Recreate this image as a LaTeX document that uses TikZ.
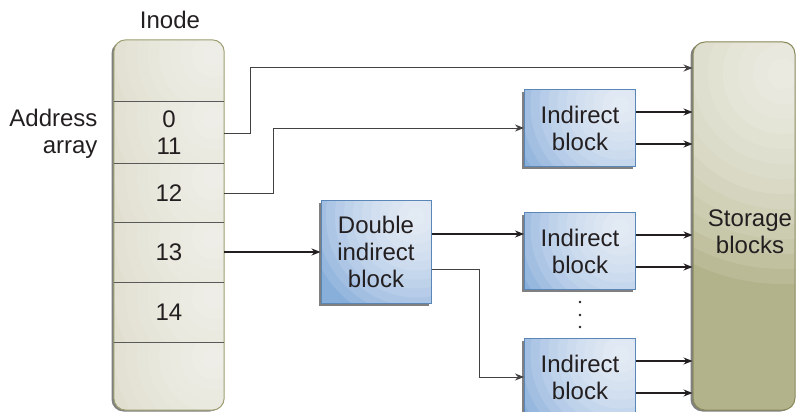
\documentclass[tikz,border=0pt]{standalone}
\usepackage{fontspec}
\setmainfont{Liberation Sans}
\usetikzlibrary{arrows.meta, positioning, shadows, calc}

\definecolor{inodefill}{HTML}{D8D6C1}
\definecolor{inodeedge}{HTML}{9E9E72}
\definecolor{storefill}{HTML}{B3B38B}
\definecolor{storeedge}{HTML}{8A8A5C}
\definecolor{blockfill}{HTML}{88AEDA}
\definecolor{blockedge}{HTML}{5A86B8}
\definecolor{ink}{HTML}{231F20}

% soft white highlight: centre, rings, ring step, opacity
\newcommand{\glowat}[4]{%
    \foreach \k in {1,...,#2}
        \fill[white, opacity=#4] #1 circle ({\k*#3});}

\begin{document}
\begin{tikzpicture}[x=1pt, y=-1pt, >={Stealth[length=9pt, width=7pt]},
    font=\fontsize{24}{27}\selectfont, text=ink,
    blk/.style={rectangle, draw=blockedge, line width=1pt, fill=blockfill, align=center, inner sep=0pt,
        minimum width=111pt, minimum height=77pt,
        drop shadow={shadow xshift=-2.5pt, shadow yshift=-2.5pt, fill=black!50, opacity=1},
        path picture={\glowat{($(path picture bounding box.north east)+(-15,16)$)}{12}{9pt}{0.12}}},
    store/.style={rectangle, rounded corners=12pt, draw=storeedge, line width=1pt, fill=storefill,
        inner sep=0pt, minimum width=102pt, minimum height=368pt,
        drop shadow={shadow xshift=-2.5pt, shadow yshift=-1.5pt, fill=black!50, opacity=1},
        path picture={\glowat{($(path picture bounding box.north east)+(-12,32)$)}{14}{15pt}{0.1}}},
    cell/.style={align=center, inner sep=0pt},
    rowline/.style={draw=black!65, line width=1pt},
    arr/.style={->, draw=ink, line width=1.5pt},
    wire/.style={->, draw=ink!85, line width=1pt}]

    \useasboundingbox (0,0) rectangle (796,412);

    % inode with its rows
    \node (inode) [rectangle, rounded corners=12pt, fill=inodefill, inner sep=0pt,
        minimum width=110pt, minimum height=370pt,
        drop shadow={shadow xshift=-2.5pt, shadow yshift=-1.5pt, fill=black!50, opacity=1}] at (169,225) {};
    \begin{scope}
        \clip[rounded corners=12pt] (inode.north west) rectangle (inode.south east);
        \foreach \t/\b in {40/102, 102/163, 163/222, 222/282, 282/342, 342/410} {
            \begin{scope}
                \clip (100,\t) rectangle (240,\b);
                \glowat{(214,\t+15)}{12}{11pt}{0.09}
            \end{scope}
        }
    \end{scope}
    \draw[inodeedge, line width=1pt, rounded corners=12pt] (inode.north west) rectangle (inode.south east);
    \foreach \y in {102,163,222,282,342}
        \draw[rowline] (inode.west |- 0,\y) -- (inode.east |- 0,\y);

    \node (title) at (170,20) {Inode};
    \node (addr) [align=right, anchor=east] at (101,134) {Address\\array};
    \node (r0) [cell] at (169,133) {0\\11};
    \node (r12) [cell] at (169,193) {12};
    \node (r13) [cell] at (169,252) {13};
    \node (r14) [cell] at (169,312) {14};

    % storage and blocks
    \node (store) [store] at (744,226) {};
    \node (storetxt) [cell] at (750,232) {Storage\\blocks};
    \node (dbl) [blk, minimum width=110pt, minimum height=103pt] at (376,252) {Double\\indirect\\block};
    \node (ib1) [blk] at (580,128) {Indirect\\block};
    \node (ib2) [blk] at (580,251) {Indirect\\block};
    \node (ib3) [blk] at (580,377) {Indirect\\block};
    \foreach \y in {302,315,327}
        \fill[ink] (580,\y) circle (1.3pt);

    \coordinate (direct) at (store.west |- 0,68);

    \draw[wire] (r0 -| inode.east) -- ++(26,0) |- (direct);
    \draw[wire] (r12 -| inode.east) -- ++(49,0) |- (ib1.west);
    \draw[arr] (r13 -| inode.east) -- (dbl.west);
    \draw[arr] ([yshift=18pt]dbl.east) -- ([yshift=18pt]dbl.east -| ib2.west);
    \draw[wire] ([yshift=-17pt]dbl.east) -- ++(48,0) |- (ib3.west);
    \foreach \b in {ib1,ib2,ib3}
        \foreach \s in {16,-16}
            \draw[arr] ([yshift=\s pt]\b.east) -- ([yshift=\s pt]\b.east -| store.west);

\end{tikzpicture}
\end{document}
